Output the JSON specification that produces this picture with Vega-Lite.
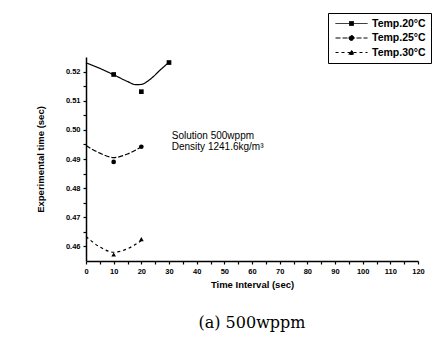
{
  "$schema": "https://vega.github.io/schema/vega-lite/v6.json",
  "width": 332,
  "height": 204,
  "autosize": "none",
  "padding": {"left": 86, "top": 57, "right": 20, "bottom": 86},
  "background": "white",
  "config": {"view": {"stroke": null}},
  "datasets": {
    "curve": [
      {"series": "Temp.20°C", "t": 0, "v": 0.5230},
      {"series": "Temp.20°C", "t": 5, "v": 0.5211},
      {"series": "Temp.20°C", "t": 10, "v": 0.5189},
      {"series": "Temp.20°C", "t": 15, "v": 0.5166},
      {"series": "Temp.20°C", "t": 18, "v": 0.5155},
      {"series": "Temp.20°C", "t": 20, "v": 0.5156},
      {"series": "Temp.20°C", "t": 23, "v": 0.5172},
      {"series": "Temp.20°C", "t": 27, "v": 0.5207},
      {"series": "Temp.20°C", "t": 30, "v": 0.5232},
      {"series": "Temp.25°C", "t": 0, "v": 0.4946},
      {"series": "Temp.25°C", "t": 5, "v": 0.4920},
      {"series": "Temp.25°C", "t": 10, "v": 0.4905},
      {"series": "Temp.25°C", "t": 15, "v": 0.4917},
      {"series": "Temp.25°C", "t": 20, "v": 0.4942},
      {"series": "Temp.30°C", "t": 0, "v": 0.4634},
      {"series": "Temp.30°C", "t": 5, "v": 0.4598},
      {"series": "Temp.30°C", "t": 10, "v": 0.4580},
      {"series": "Temp.30°C", "t": 15, "v": 0.4592},
      {"series": "Temp.30°C", "t": 20, "v": 0.4620}
    ],
    "pts": [
      {"marker": "T20", "t": 10, "v": 0.5190},
      {"marker": "T20", "t": 20, "v": 0.5131},
      {"marker": "T20", "t": 30, "v": 0.5231},
      {"marker": "T25", "t": 10, "v": 0.4890},
      {"marker": "T25", "t": 20, "v": 0.4942},
      {"marker": "T30", "t": 10, "v": 0.4572},
      {"marker": "T30", "t": 20, "v": 0.4625}
    ],
    "notes": [
      {"t": 31, "v": 0.4978, "label": "Solution 500wppm"},
      {"t": 31, "v": 0.4940, "label": "Density 1241.6kg/m³"}
    ]
  },
  "title": {
    "text": "(a)  500wppm",
    "orient": "bottom",
    "anchor": "middle",
    "font": "DejaVu Serif",
    "fontSize": 16,
    "fontWeight": "normal",
    "color": "black",
    "offset": 26
  },
  "encoding": {
    "x": {
      "field": "t",
      "type": "quantitative",
      "scale": {"domain": [0, 120], "nice": false},
      "axis": {
        "title": "Time Interval (sec)",
        "values": [0, 5, 10, 15, 20, 25, 30, 35, 40, 45, 50, 55, 60, 65, 70, 75, 80, 85, 90, 95, 100, 105, 110, 115, 120],
        "labelExpr": "datum.value % 10 == 0 ? datum.label : ''",
        "grid": false,
        "domainColor": "black",
        "domainWidth": 1.5,
        "tickColor": "black",
        "tickSize": 3,
        "tickWidth": 1.2,
        "labelFont": "Liberation Sans",
        "labelFontSize": 7.5,
        "labelFontWeight": "bold",
        "labelColor": "black",
        "labelPadding": 3,
        "labelFlush": false,
        "titleFont": "Liberation Sans",
        "titleFontSize": 9.5,
        "titleFontWeight": "bold",
        "titleColor": "black",
        "titlePadding": 5
      }
    },
    "y": {
      "field": "v",
      "type": "quantitative",
      "scale": {"domain": [0.455, 0.525], "zero": false, "nice": false},
      "axis": {
        "title": "Experimental time (sec)",
        "values": [0.46, 0.465, 0.47, 0.475, 0.48, 0.485, 0.49, 0.495, 0.5, 0.505, 0.51, 0.515, 0.52],
        "labelExpr": "round(datum.value * 1000) % 10 == 0 ? format(datum.value, '.2f') : ''",
        "grid": false,
        "domainColor": "black",
        "domainWidth": 1.5,
        "tickColor": "black",
        "tickSize": 3,
        "tickWidth": 1.2,
        "labelFont": "Liberation Sans",
        "labelFontSize": 7.5,
        "labelFontWeight": "bold",
        "labelColor": "black",
        "labelPadding": 3,
        "labelFlush": false,
        "titleFont": "Liberation Sans",
        "titleFontSize": 9.5,
        "titleFontWeight": "bold",
        "titleColor": "black",
        "titlePadding": 20
      }
    }
  },
  "layer": [
    {
      "data": {"name": "curve"},
      "mark": {"type": "line", "interpolate": "monotone", "strokeWidth": 1.2, "color": "black"},
      "encoding": {
        "strokeDash": {
          "field": "series",
          "type": "nominal",
          "scale": {"domain": ["Temp.20°C", "Temp.25°C", "Temp.30°C"], "range": [[1, 0], [5, 2], [3, 3]]},
          "legend": {
            "orient": "none",
            "legendX": 242,
            "legendY": -44,
            "title": null,
            "strokeColor": "black",
            "fillColor": "white",
            "padding": 5,
            "labelFont": "Liberation Sans",
            "labelFontSize": 10.5,
            "labelFontWeight": "bold",
            "labelColor": "black",
            "symbolSize": 100,
            "symbolOffset": 13,
            "labelOffset": 15,
            "rowPadding": 3.5,
            "symbolStrokeWidth": 1,
            "symbolStrokeColor": "black",
            "symbolFillColor": "black",
            "encode": {
              "symbols": {
                "update": {
                  "shape": {"signal": "datum.value == 'Temp.20°C' ? 'M-3.2,0H3.2M-0.4,-0.4H0.4V0.4H-0.4Z' : datum.value == 'Temp.25°C' ? 'M-3.2,0H3.2M-0.5,0A0.5,0.5,0,1,0,0.5,0A0.5,0.5,0,1,0,-0.5,0Z' : 'M-3.2,0H3.2M-0.55,0.4L0,-0.5L0.55,0.4Z'"},
                  "fill": {"value": "black"},
                  "stroke": {"value": "black"}
                }
              }
            }
          }
        }
      }
    },
    {
      "data": {"name": "pts"},
      "mark": {"type": "point", "filled": true, "color": "black", "opacity": 1},
      "encoding": {
        "shape": {
          "field": "marker",
          "type": "nominal",
          "scale": {"domain": ["T20", "T25", "T30"], "range": ["square", "circle", "triangle-up"]},
          "legend": null
        },
        "size": {"value": 22}
      }
    },
    {
      "data": {"name": "notes"},
      "mark": {"type": "text", "align": "left", "baseline": "middle", "font": "Liberation Sans", "fontSize": 10, "color": "black"},
      "encoding": {"text": {"field": "label"}}
    }
  ]
}
